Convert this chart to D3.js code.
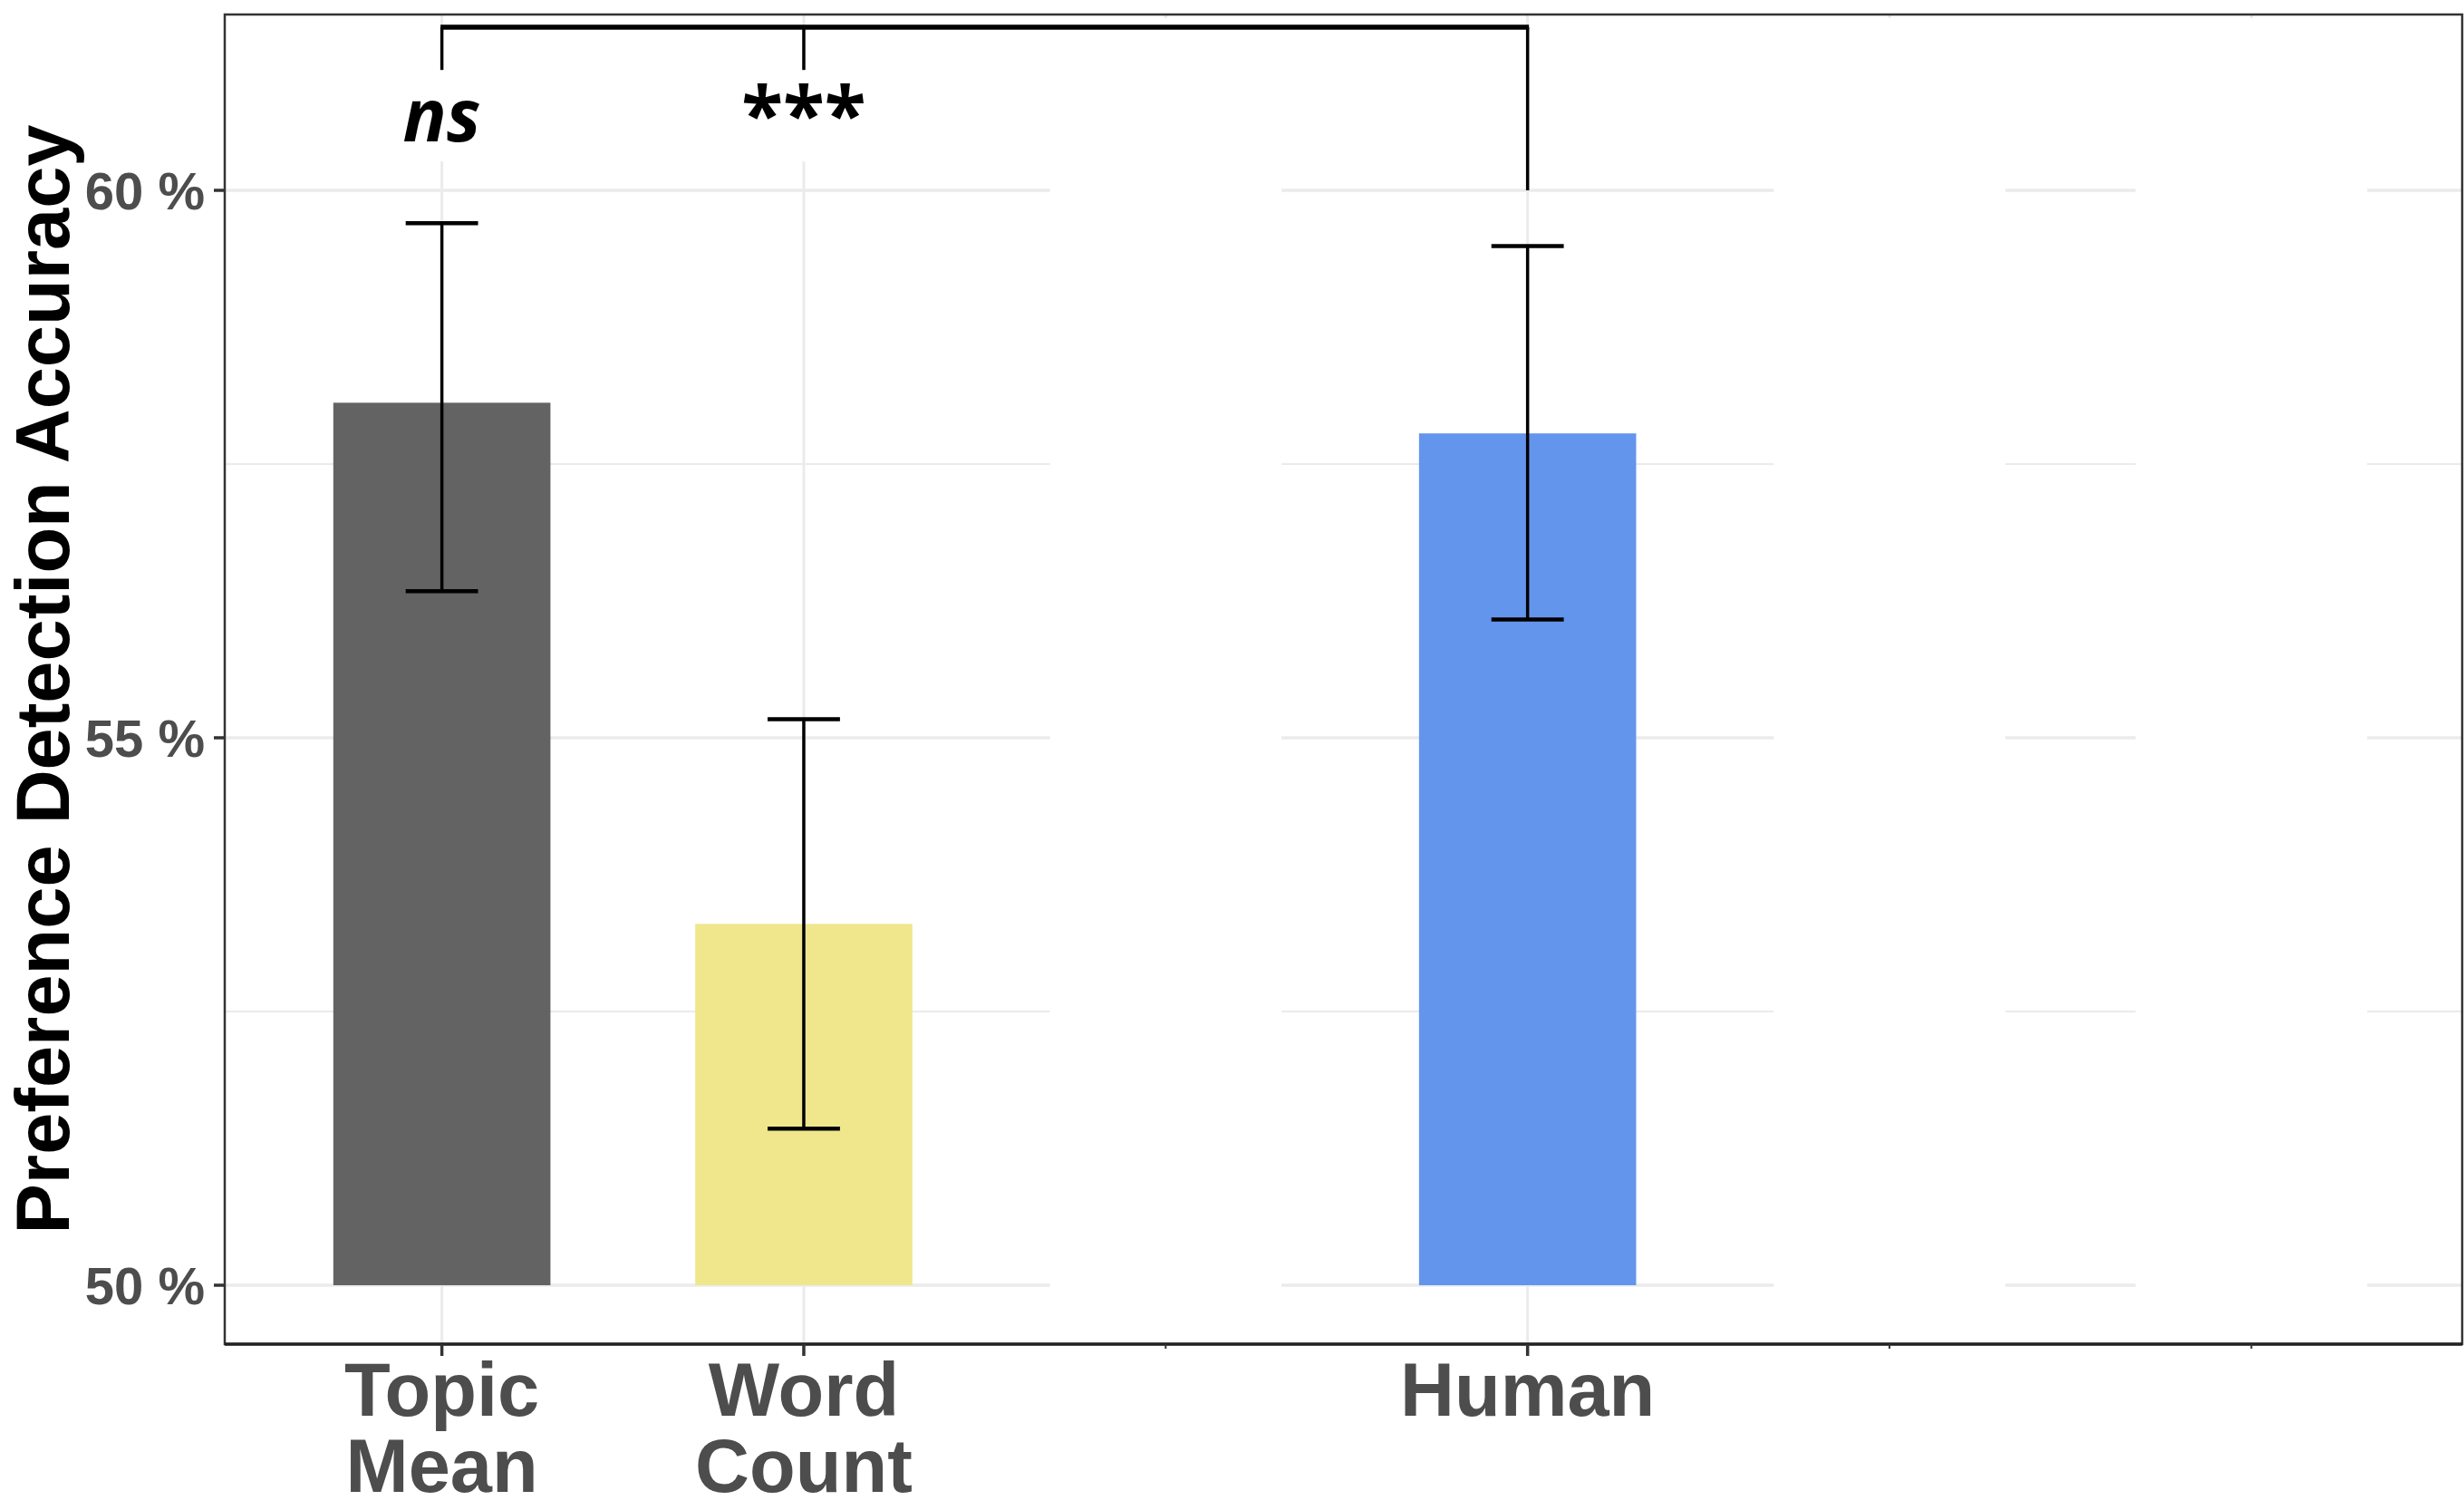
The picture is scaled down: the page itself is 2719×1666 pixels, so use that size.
<!DOCTYPE html>
<html>
<head>
<meta charset="utf-8">
<script src="https://cdn.jsdelivr.net/npm/d3@7"></script>
<style>
  html, body { margin: 0; padding: 0; background: #ffffff; }
  svg { display: block; }
</style>
</head>
<body>
<svg id="chart" width="2719" height="1666"></svg>
<script>
// ---------------- data ----------------
const slots = ["Topic Mean", "Word Count", "gap1", "Human", "gap2", "gap3"];
const slotLabels = [["Topic", "Mean"], ["Word", "Count"], [], ["Human"], [], []];
const blankSlots = ["gap1", "gap2", "gap3"];

const categories = ["Topic Mean", "Word Count", "Human"];
const means = [58.06, 53.30, 57.78];
const lowerCI = [56.34, 51.43, 56.08];
const upperCI = [59.70, 55.17, 59.49];
const barColors = ["#636363", "#F0E68C", "#6495ED"];

const yMajorTicks = [50, 55, 60];
const yMinorTicks = [52.5, 57.5];
const yTickLabels = ["50 %", "55 %", "60 %"];

const sigGroups = ["Topic Mean", "Word Count"];
const sigLabels = ["ns", "***"];
const sigItalic = [true, false];
const sigReference = "Human";
const bracketTop = 61.49;
const bracketDrop = 61.10;
const referenceDrop = 60.0;
const sigLabelBase = 60.45;

// ---------------- layout ----------------
const svg = d3.select("#chart");
const panel = { left: 248, right: 2717, top: 16, bottom: 1483 };

const x = d3.scalePoint().domain(slots).range([248, 2724]).padding(0.6);
const step = x.step();
const y = d3.scaleLinear().domain([50, 60]).range([1418, 210]);

const g = svg.append("g");

// panel background
g.append("rect")
  .attr("x", panel.left).attr("y", panel.top)
  .attr("width", panel.right - panel.left).attr("height", panel.bottom - panel.top)
  .attr("fill", "#ffffff");

// minor gridlines
g.selectAll(".minor").data(yMinorTicks).join("line")
  .attr("x1", panel.left).attr("x2", panel.right)
  .attr("y1", d => y(d)).attr("y2", d => y(d))
  .attr("stroke", "#ebebeb").attr("stroke-width", 2);

// major gridlines
g.selectAll(".major").data(yMajorTicks).join("line")
  .attr("x1", panel.left).attr("x2", panel.right)
  .attr("y1", d => y(d)).attr("y2", d => y(d))
  .attr("stroke", "#ebebeb").attr("stroke-width", 3.5);

g.selectAll(".vgrid").data(slots).join("line")
  .attr("x1", d => x(d)).attr("x2", d => x(d))
  .attr("y1", panel.top).attr("y2", panel.bottom)
  .attr("stroke", "#ebebeb").attr("stroke-width", 3);

// white placeholder bars for blank slots
g.selectAll(".blank").data(blankSlots).join("rect")
  .attr("x", d => x(d) - step * 0.32)
  .attr("width", step * 0.64)
  .attr("y", panel.top + 4)
  .attr("height", panel.bottom - panel.top - 4)
  .attr("fill", "#ffffff");

// white label backgrounds for significance labels
g.selectAll(".labbg").data(sigGroups).join("rect")
  .attr("x", d => x(d) - 100).attr("width", 200)
  .attr("y", y(bracketDrop) + 1)
  .attr("height", 100)
  .attr("fill", "#ffffff");

// bars
const bw = step * 0.6;
g.selectAll(".bar").data(categories).join("rect")
  .attr("x", d => x(d) - bw / 2)
  .attr("width", bw)
  .attr("y", (d, i) => y(means[i]))
  .attr("height", (d, i) => y(50) - y(means[i]))
  .attr("fill", (d, i) => barColors[i]);

// error bars
const capW = step * 0.2;
categories.forEach((c, i) => {
  const cx = x(c);
  g.append("line")
    .attr("x1", cx).attr("x2", cx)
    .attr("y1", y(upperCI[i])).attr("y2", y(lowerCI[i]))
    .attr("stroke", "#000").attr("stroke-width", 3.5);
  [upperCI[i], lowerCI[i]].forEach(v => {
    g.append("line")
      .attr("x1", cx - capW / 2).attr("x2", cx + capW / 2)
      .attr("y1", y(v)).attr("y2", y(v))
      .attr("stroke", "#000").attr("stroke-width", 4.5);
  });
});

// significance bracket
g.append("line")
  .attr("x1", x(sigGroups[0]) - 1.5).attr("x2", x(sigReference) + 1.5)
  .attr("y1", y(bracketTop)).attr("y2", y(bracketTop))
  .attr("stroke", "#000").attr("stroke-width", 5.5);
sigGroups.forEach(s => {
  g.append("line")
    .attr("x1", x(s)).attr("x2", x(s))
    .attr("y1", y(bracketTop)).attr("y2", y(bracketDrop))
    .attr("stroke", "#000").attr("stroke-width", 3.5);
});
g.append("line")
  .attr("x1", x(sigReference)).attr("x2", x(sigReference))
  .attr("y1", y(bracketTop)).attr("y2", y(referenceDrop))
  .attr("stroke", "#000").attr("stroke-width", 3.5);

// significance labels
g.selectAll(".sig").data(sigGroups).join("text")
  .attr("x", d => x(d))
  .attr("y", y(sigLabelBase))
  .attr("text-anchor", "middle")
  .attr("font-family", "'Open Sans', sans-serif")
  .attr("font-weight", 700)
  .attr("font-style", (d, i) => sigItalic[i] ? "italic" : "normal")
  .attr("font-size", (d, i) => sigItalic[i] ? 80 : 84)
  .attr("fill", "#000")
  .text((d, i) => sigLabels[i]);

// panel border
g.append("rect")
  .attr("x", panel.left).attr("y", panel.top)
  .attr("width", panel.right - panel.left).attr("height", panel.bottom - panel.top)
  .attr("fill", "none").attr("stroke", "#333333").attr("stroke-width", 2.5);
g.append("line")
  .attr("x1", panel.left).attr("x2", panel.right)
  .attr("y1", panel.bottom).attr("y2", panel.bottom)
  .attr("stroke", "#222").attr("stroke-width", 3.5);

// y axis ticks and labels
g.selectAll(".ytick").data(yMajorTicks).join("line")
  .attr("x1", panel.left - 12).attr("x2", panel.left)
  .attr("y1", d => y(d)).attr("y2", d => y(d))
  .attr("stroke", "#333").attr("stroke-width", 3.5);
g.selectAll(".ylab").data(yMajorTicks).join("text")
  .attr("x", 226).attr("y", d => y(d))
  .attr("dy", "0.36em")
  .attr("text-anchor", "end")
  .attr("font-family", "'Liberation Sans', Arial, sans-serif")
  .attr("font-weight", 700).attr("font-size", 58)
  .attr("fill", "#4d4d4d")
  .text((d, i) => yTickLabels[i]);

// x axis ticks
g.selectAll(".xtick").data(slots).join("line")
  .attr("x1", d => x(d)).attr("x2", d => x(d))
  .attr("y1", panel.bottom)
  .attr("y2", d => blankSlots.includes(d) ? panel.bottom + 5 : panel.bottom + 13)
  .attr("stroke", "#333").attr("stroke-width", d => blankSlots.includes(d) ? 2 : 3.5);

// x labels
slots.forEach((s, i) => {
  slotLabels[i].forEach((line, j) => {
    g.append("text")
      .attr("x", x(s)).attr("y", 1562 + j * 84)
      .attr("text-anchor", "middle")
      .attr("font-family", "'Liberation Sans', Arial, sans-serif")
      .attr("font-weight", 700).attr("font-size", 83)
      .attr("fill", "#4d4d4d")
      .text(line);
  });
});

// y title
g.append("text")
  .attr("transform", `translate(76, ${(panel.top + panel.bottom) / 2}) rotate(-90)`)
  .attr("text-anchor", "middle")
  .attr("font-family", "'Liberation Sans', Arial, sans-serif")
  .attr("font-weight", 700).attr("font-size", 83)
  .attr("fill", "#000")
  .text("Preference Detection Accuracy");
</script>
</body>
</html>
